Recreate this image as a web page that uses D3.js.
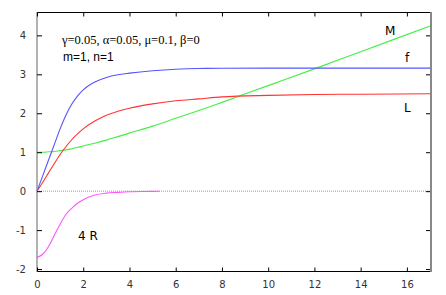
<!DOCTYPE html>
<html>
    <head>
        <meta charset="utf-8">
        <title></title>
        <script src="https://d3js.org/d3.v7.min.js"></script>
        <style>
            body { margin: 0; background: #fff; }
            svg { display: block; }
            .tick-label { font-family: "DejaVu Sans", sans-serif; font-size: 10px; fill: #333; }
            .curve { fill: none; stroke-width: 1.1px; }
            .params { font-family: "Liberation Serif", "Times New Roman", serif; font-size: 12.5px; }
            .mn { font-family: "Liberation Sans", Arial, sans-serif; font-size: 12px; }
            .lab { font-family: "DejaVu Sans", sans-serif; font-size: 12px; }
        </style>
    </head>
    <body>
        <svg width="446" height="295"></svg>
        <script>
            // sample points
            var xs    = [0, 0.25, 0.5, 0.75, 1, 1.25, 1.5, 1.75, 2, 2.5, 3, 3.5, 4, 5, 6, 7, 8, 10, 12, 14, 17];
            var fVals = [0, 0.40, 0.80, 1.20, 1.60, 1.95, 2.23, 2.44, 2.60, 2.80, 2.92, 2.99, 3.03, 3.09, 3.13, 3.15, 3.155, 3.16, 3.16, 3.16, 3.16];
            var lVals = [0, 0.23, 0.47, 0.71, 0.94, 1.14, 1.32, 1.47, 1.60, 1.80, 1.95, 2.05, 2.13, 2.24, 2.32, 2.37, 2.42, 2.46, 2.48, 2.49, 2.50];
            var mVals = [1.0, 1.0, 1.01, 1.02, 1.04, 1.06, 1.09, 1.12, 1.16, 1.23, 1.31, 1.40, 1.49, 1.67, 1.87, 2.07, 2.28, 2.71, 3.14, 3.58, 4.24];
            var rX    = [0, 0.25, 0.5, 0.75, 1, 1.25, 1.5, 1.75, 2, 2.5, 3, 3.5, 4, 5, 5.3];
            var rVals = [-1.70, -1.62, -1.42, -1.13, -0.85, -0.60, -0.44, -0.31, -0.22, -0.10, -0.05, -0.03, -0.015, -0.005, 0];
            var xTicks = [0, 2, 4, 6, 8, 10, 12, 14, 16];
            var yTicks = [-2, -1, 0, 1, 2, 3, 4];

            var svg = d3.select("svg");
            var pLeft = 37, pRight = 430, pTop = 12, pBottom = 271;

            var x = d3.scaleLinear().domain([0, 17]).range([pLeft, pRight]);
            var y = d3.scaleLinear().domain([-2.05, 4.6]).range([pBottom, pTop]);

            // zero line
            svg.append("line")
                .attr("x1", x(0)).attr("x2", x(17))
                .attr("y1", y(0)).attr("y2", y(0))
                .attr("stroke", "#999").attr("stroke-width", 1)
                .attr("stroke-dasharray", "1,1");

            var line = d3.line()
                .x(function(d){ return x(d[0]); })
                .y(function(d){ return y(d[1]); })
                .curve(d3.curveMonotoneX);

            var series = [
                {xs: xs, ys: mVals, color: "#44ee44"},
                {xs: xs, ys: lVals, color: "#ff3333"},
                {xs: xs, ys: fVals, color: "#5555ff"},
                {xs: rX, ys: rVals, color: "#ff55ff"}
            ];
            series.forEach(function(s){
                svg.append("path")
                    .attr("class", "curve")
                    .attr("stroke", s.color)
                    .attr("d", line(s.xs.map(function(v, i){ return [v, s.ys[i]]; })));
            });

            // frame
            svg.append("line").attr("x1", pLeft).attr("x2", pRight).attr("y1", pTop + 0.5).attr("y2", pTop + 0.5)
                .attr("stroke", "#000").attr("stroke-width", 1);
            svg.append("line").attr("x1", pLeft).attr("x2", pRight).attr("y1", pBottom + 0.5).attr("y2", pBottom + 0.5)
                .attr("stroke", "#000").attr("stroke-width", 1.2);
            svg.append("line").attr("x1", pLeft).attr("x2", pLeft).attr("y1", pTop).attr("y2", pBottom + 1)
                .attr("stroke", "#888").attr("stroke-width", 1.3);
            svg.append("line").attr("x1", pRight + 1).attr("x2", pRight + 1).attr("y1", pTop).attr("y2", pBottom + 1)
                .attr("stroke", "#888").attr("stroke-width", 2);

            // axes with inward ticks
            var fmt = function(d){ return String(d); };
            var xAxis = d3.axisBottom(x).tickValues(xTicks).tickSize(-4).tickPadding(9).tickFormat(fmt);
            var gx = svg.append("g").attr("transform", "translate(0," + (pBottom + 0.5) + ")").call(xAxis);
            var xTop = d3.axisTop(x).tickValues(xTicks).tickSize(-4).tickFormat("");
            var gxt = svg.append("g").attr("transform", "translate(0," + (pTop + 0.5) + ")").call(xTop);
            var yAxis = d3.axisLeft(y).tickValues(yTicks).tickSize(-5).tickPadding(11).tickFormat(fmt);
            var gy = svg.append("g").attr("transform", "translate(" + pLeft + ",0)").call(yAxis);
            var yRight = d3.axisRight(y).tickValues(yTicks).tickSize(-4).tickFormat("");
            var gyr = svg.append("g").attr("transform", "translate(" + pRight + ",0)").call(yRight);

            [gx, gxt, gy, gyr].forEach(function(g){
                g.select(".domain").remove();
                g.attr("font-family", null).attr("font-size", null);
                g.selectAll(".tick line").attr("stroke", "#000");
                g.selectAll("text").attr("class", "tick-label").attr("fill", null);
            });

            // annotations
            svg.append("text").attr("class", "params").attr("x", 62).attr("y", 44)
                .text("γ=0.05, α=0.05, μ=0.1, β=0");
            svg.append("text").attr("class", "mn").attr("x", 63).attr("y", 61)
                .text("m=1, n=1");

            var labels = [
                {t: "M", x: 385, y: 35},
                {t: "f", x: 405, y: 62},
                {t: "L", x: 404, y: 112},
                {t: "4 R", x: 78, y: 240}
            ];
            svg.selectAll(".lab").data(labels).enter().append("text")
                .attr("class", "lab")
                .attr("x", function(d){ return d.x; })
                .attr("y", function(d){ return d.y; })
                .text(function(d){ return d.t; });
        </script>
    </body>
</html>
